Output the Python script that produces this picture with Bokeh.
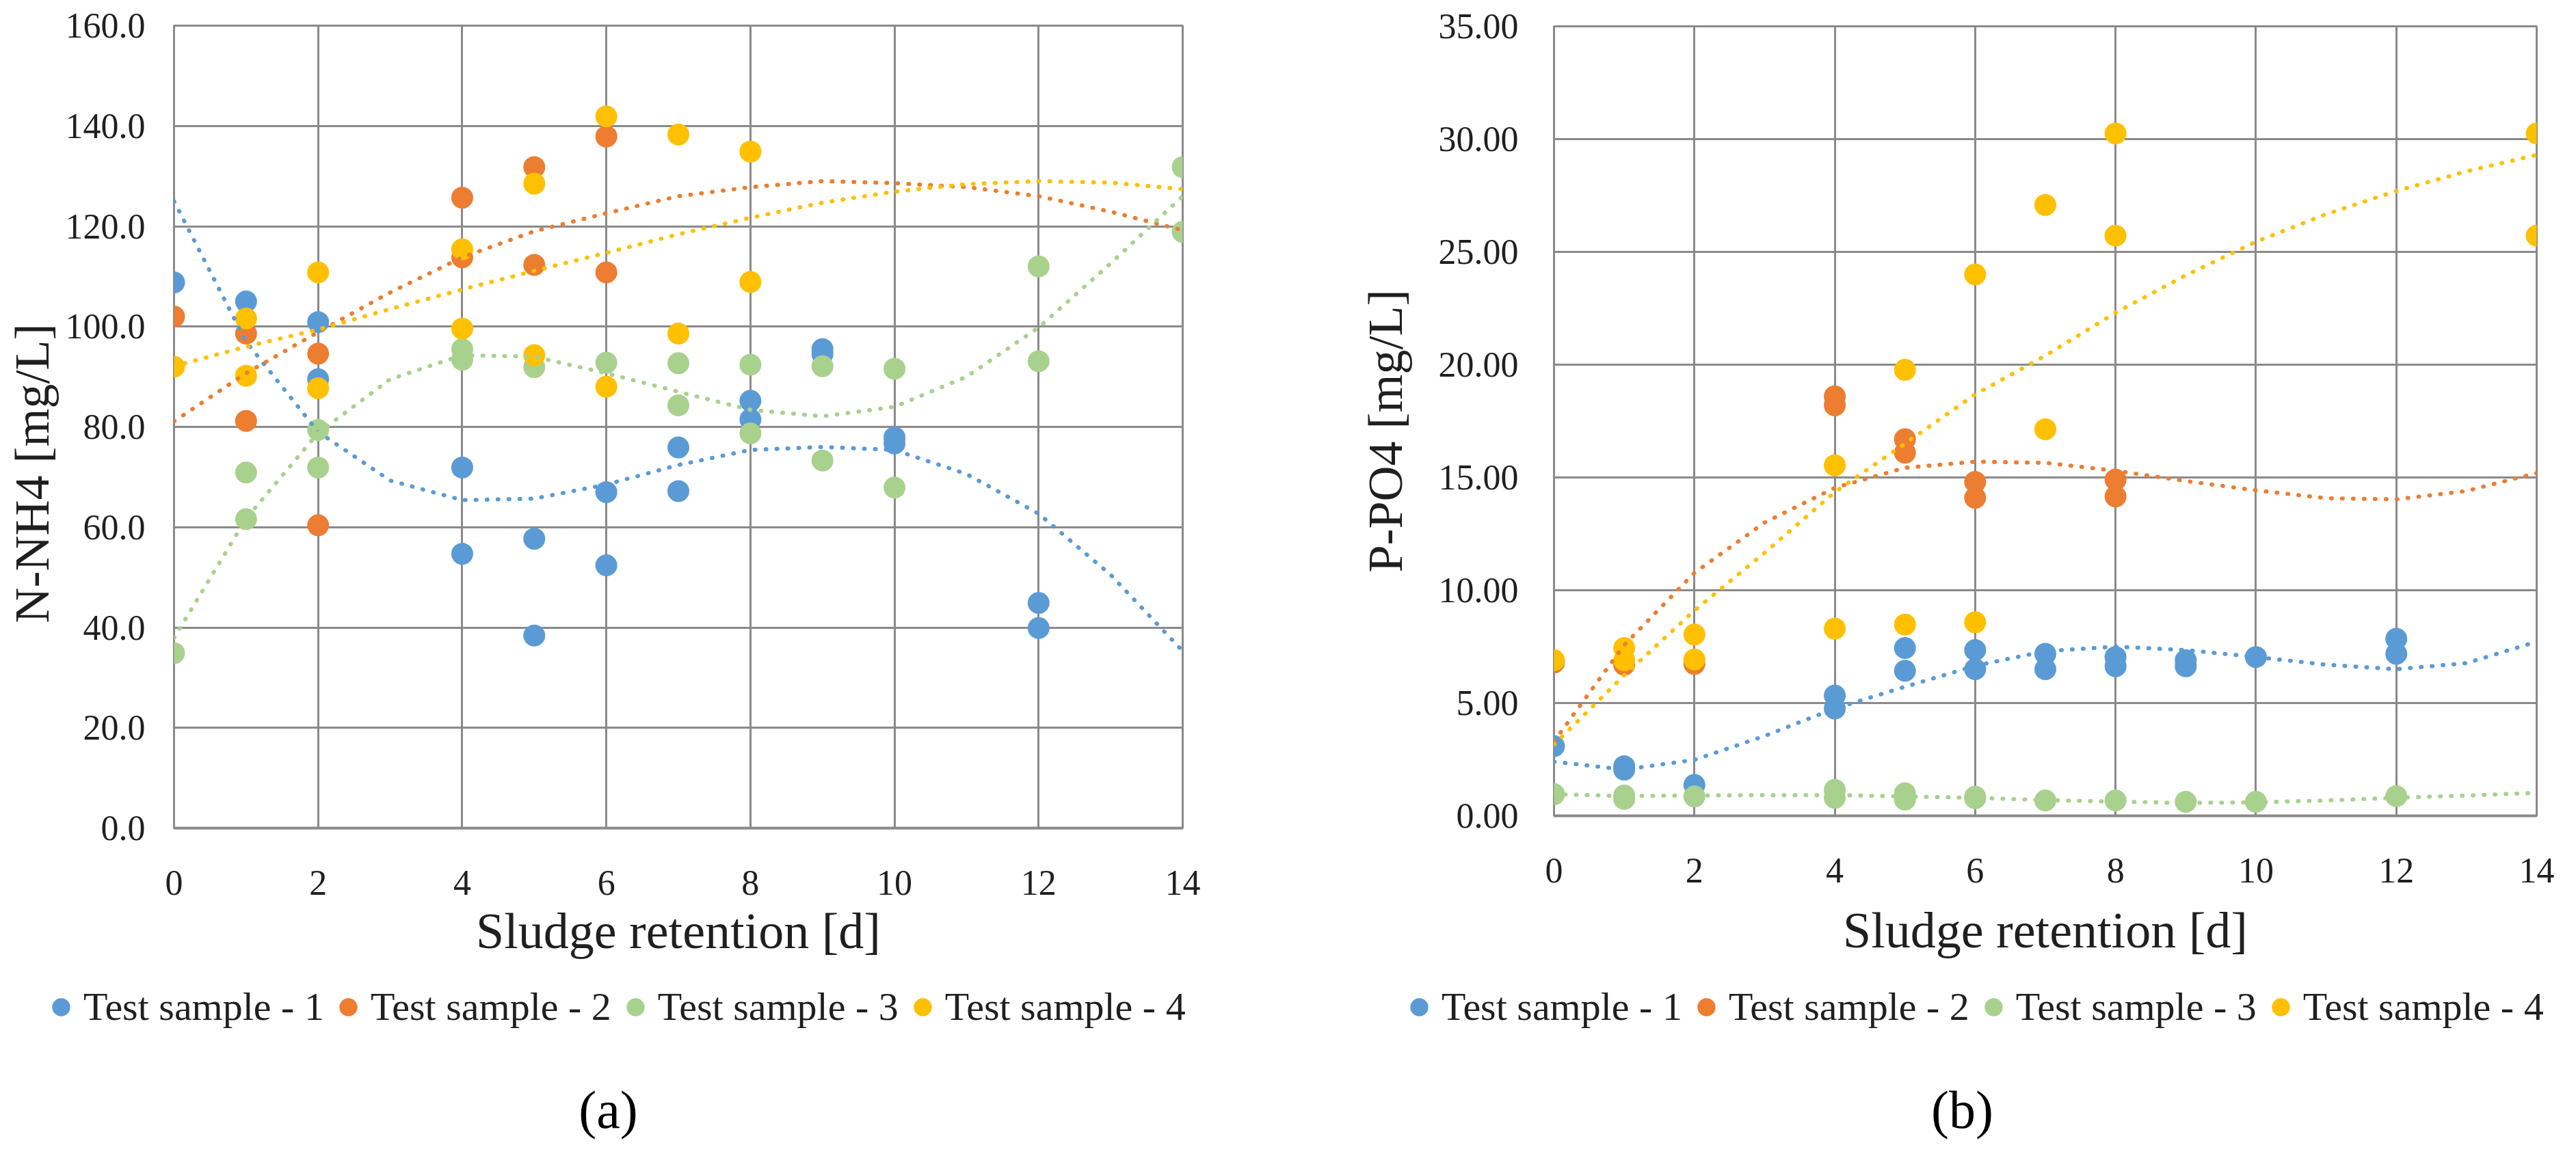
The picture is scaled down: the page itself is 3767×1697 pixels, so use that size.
import math

from bokeh.plotting import figure
from bokeh.layouts import row, column
from bokeh.models import Legend, LegendItem, Label, NumeralTickFormatter
from bokeh.embed import file_html
from bokeh.resources import INLINE

# ---- data ----
series_names = ["Test sample - 1", "Test sample - 2", "Test sample - 3", "Test sample - 4"]
series_colors = ["#5B9BD5", "#ED7D31", "#A9D18E", "#FFC000"]

x_ticks = [0, 2, 4, 6, 8, 10, 12, 14]
nh4_y_ticks = [0, 20, 40, 60, 80, 100, 120, 140, 160]
po4_y_ticks = [0, 5, 10, 15, 20, 25, 30, 35]

# (a) N-NH4
nh4_s1_x = [0, 1, 2, 2, 4, 4, 5, 5, 6, 6, 7, 7, 8, 8, 9, 9, 10, 10, 12, 12]
nh4_s1_y = [108.8, 105.0, 100.9, 89.5, 71.9, 54.7, 57.7, 38.4, 67.0, 52.4, 75.9, 67.2,
            85.2, 81.5, 95.5, 94.5, 77.9, 76.7, 44.9, 39.9]
nh4_s2_x = [0, 1, 1, 2, 2, 4, 4, 5, 5, 6, 6]
nh4_s2_y = [102.0, 98.6, 81.2, 94.6, 60.4, 125.7, 113.8, 131.8, 112.3, 137.9, 110.8]
nh4_s3_x = [0, 1, 1, 2, 2, 4, 4, 5, 6, 7, 7, 8, 8, 9, 9, 10, 10, 12, 12, 14, 14]
nh4_s3_y = [34.9, 70.9, 61.6, 79.4, 71.9, 95.5, 93.4, 91.9, 92.8, 92.7, 84.3, 92.4, 78.7,
            92.1, 73.3, 91.6, 67.9, 112.0, 93.1, 131.8, 118.9]
nh4_s4_x = [0, 1, 1, 2, 2, 4, 4, 5, 5, 6, 6, 7, 7, 8, 8]
nh4_s4_y = [92.0, 101.6, 90.2, 110.8, 87.7, 115.4, 99.6, 128.5, 94.3, 141.9, 88.0,
            138.3, 98.6, 134.9, 108.9]

# trend lines (values read at each day)
trend_days = [0, 1, 2, 3, 4, 5, 6, 7, 8, 9, 10, 11, 12, 13, 14]
nh4_trend_1 = [125.0, 97.0, 79.0, 69.3, 65.4, 65.7, 68.5, 72.4, 75.4, 76.0, 75.4, 70.6, 62.7, 50.5, 35.3]
nh4_trend_2 = [81.1, 90.7, 98.9, 106.8, 113.8, 119.0, 122.6, 126.0, 127.8, 129.0, 128.6, 127.8, 126.0, 122.9, 119.2]
nh4_trend_3 = [37.9, 61.7, 78.8, 89.5, 94.3, 94.0, 90.7, 87.0, 83.4, 82.1, 84.0, 90.0, 99.8, 112.6, 126.0]
nh4_trend_4 = [92.1, 96.0, 99.4, 103.5, 107.4, 111.1, 114.7, 118.4, 121.7, 124.7, 126.9, 128.4, 129.0, 128.7, 127.4]

# (b) P-PO4
po4_s1_x = [0, 1, 1, 2, 4, 4, 5, 5, 6, 6, 7, 7, 8, 8, 9, 9, 10, 12, 12]
po4_s1_y = [3.09, 2.2, 2.05, 1.37, 5.33, 4.76, 7.44, 6.43, 7.35, 6.5, 7.18, 6.5, 7.04,
            6.63, 6.9, 6.63, 7.04, 7.85, 7.18]
po4_s2_x = [0, 1, 2, 4, 4, 5, 5, 6, 6, 8, 8]
po4_s2_y = [6.8, 6.7, 6.74, 18.6, 18.2, 16.7, 16.1, 14.8, 14.1, 14.9, 14.16]
po4_s3_x = [0, 1, 1, 2, 4, 4, 5, 5, 6, 6, 7, 8, 9, 10, 12]
po4_s3_y = [0.96, 0.9, 0.75, 0.86, 1.15, 0.8, 1.0, 0.72, 0.85, 0.78, 0.68, 0.68, 0.62, 0.62, 0.87]
po4_s4_x = [0, 1, 1, 2, 2, 4, 4, 5, 5, 6, 6, 7, 7, 8, 8, 14, 14]
po4_s4_y = [6.9, 7.44, 6.9, 8.04, 6.93, 15.54, 8.3, 19.77, 8.48, 24.0, 8.58, 27.08,
            17.14, 30.25, 25.72, 30.25, 25.72]

po4_trend_1 = [2.4, 2.05, 2.48, 3.54, 4.76, 5.72, 6.65, 7.3, 7.5, 7.35, 7.04, 6.7, 6.5, 6.77, 7.72]
po4_trend_2 = [3.3, 7.57, 10.77, 13.0, 14.54, 15.43, 15.7, 15.65, 15.3, 14.84, 14.43, 14.08, 14.03, 14.4, 15.2]
po4_trend_3 = [0.96, 0.88, 0.9, 0.92, 0.92, 0.86, 0.8, 0.7, 0.63, 0.57, 0.6, 0.68, 0.8, 0.9, 1.02]
po4_trend_4 = [3.16, 6.23, 9.1, 11.66, 14.35, 16.5, 18.68, 20.4, 22.3, 23.96, 25.45, 26.67, 27.7, 28.57, 29.3]

FONT = "Liberation Serif"
GRID = "#8a8a8a"
TEXT = "#1f1f1f"
TOP_H = 1412
BOTTOM_H = 269


def blank(width, height):
    # empty canvas used only to hold texts / legend outside the plot frame
    f = figure(width=width, height=height, output_backend="svg", toolbar_location=None,
               x_axis_type=None, y_axis_type=None, min_border=0,
               x_range=(-100, -99), y_range=(-100, -99))
    f.outline_line_color = None
    f.grid.visible = False
    f.background_fill_color = "white"
    f.border_fill_color = "white"
    return f


def text_label(x, y, text, size, angle=0.0):
    return Label(x=x, y=y, x_units="screen", y_units="screen", text=text, angle=angle,
                 text_align="center", text_baseline="middle",
                 text_font=FONT, text_font_size=size, text_color=TEXT)


def make_panel(points, trends, y_max, y_ticks, y_fmt, y_title, caption, sizes, pos):
    title_w, main_w, bottom_w, borders, y_standoff = sizes
    left, right, top, bottom = borders
    ty_x, ty_y, x_title_standoff, leg_x, cap_x = pos

    p = figure(width=main_w, height=TOP_H, x_range=(0, 14), y_range=(0, y_max),
               output_backend="svg", toolbar_location=None,
               x_axis_label="Sludge retention [d]",
               min_border_left=left, min_border_right=right,
               min_border_top=top, min_border_bottom=bottom)
    p.background_fill_color = "white"
    p.border_fill_color = "white"
    p.outline_line_color = GRID
    p.outline_line_width = 3

    p.xaxis.ticker = x_ticks
    p.yaxis.ticker = y_ticks
    p.yaxis.formatter = NumeralTickFormatter(format=y_fmt)
    for ax in (p.xaxis, p.yaxis):
        ax.major_tick_line_color = None
        ax.minor_tick_line_color = None
        ax.major_tick_out = 0
        ax.major_tick_in = 0
        ax.major_label_text_font = FONT
        ax.major_label_text_font_size = "52px"
        ax.major_label_text_color = TEXT
    p.xaxis.axis_line_color = GRID
    p.xaxis.axis_line_width = 4
    p.yaxis.axis_line_color = None
    p.xaxis.major_label_standoff = 62
    p.yaxis.major_label_standoff = y_standoff
    p.xaxis.axis_label_text_font = FONT
    p.xaxis.axis_label_text_font_size = "74px"
    p.xaxis.axis_label_text_font_style = "normal"
    p.xaxis.axis_label_text_color = TEXT
    p.xaxis.axis_label_standoff = x_title_standoff

    p.xgrid.grid_line_color = GRID
    p.ygrid.grid_line_color = GRID
    p.xgrid.grid_line_width = 3
    p.ygrid.grid_line_width = 3

    for (xs, ys), color in zip(points, series_colors):
        p.scatter(xs, ys, size=32, fill_color=color, line_color=None)
    for ys, color in zip(trends, series_colors):
        p.line(trend_days, ys, line_color=color, line_width=6,
               line_dash="1 15", line_cap="round")

    # y-axis title, placed beside the tick labels
    t = blank(title_w, TOP_H)
    t.add_layout(text_label(ty_x, ty_y, y_title, "72px", angle=math.pi / 2))

    # legend and caption below the plot
    b = blank(bottom_w, BOTTOM_H)
    keys = [b.scatter(xs, ys, size=32, fill_color=c, line_color=None)
            for (xs, ys), c in zip(points, series_colors)]
    legend = Legend(items=[LegendItem(label=n, renderers=[r]) for n, r in zip(series_names, keys)],
                    orientation="horizontal", location=(leg_x, 175),
                    glyph_width=66, glyph_height=66, label_standoff=0, spacing=2,
                    padding=0, margin=0, border_line_alpha=0, background_fill_alpha=0,
                    label_text_font=FONT, label_text_font_size="58px", label_text_color=TEXT)
    b.add_layout(legend)
    cap = text_label(cap_x, 58, caption, "78px")
    cap.text_color = "black"
    b.add_layout(cap)

    return column(row(t, p), b)


left_panel = make_panel(
    [(nh4_s1_x, nh4_s1_y), (nh4_s2_x, nh4_s2_y), (nh4_s3_x, nh4_s3_y), (nh4_s4_x, nh4_s4_y)],
    [nh4_trend_1, nh4_trend_2, nh4_trend_3, nh4_trend_4],
    160, nh4_y_ticks, "0.0", "N-NH4 [mg/L]", "(a)",
    (92, 1800, 1892, (159, 163, 37, 201), 42),
    (46, 519, 9, 56, 889))

right_panel = make_panel(
    [(po4_s1_x, po4_s1_y), (po4_s2_x, po4_s2_y), (po4_s3_x, po4_s3_y), (po4_s4_x, po4_s4_y)],
    [po4_trend_1, po4_trend_2, po4_trend_3, po4_trend_4],
    35, po4_y_ticks, "0.00", "P-PO4 [mg/L]", "(b)",
    (208, 1651, 1859, (169, 42, 38, 219), 52),
    (133, 563, 26, 150, 977))

layout = row(left_panel, right_panel)
open("out.html", "w").write(file_html(layout, INLINE))
